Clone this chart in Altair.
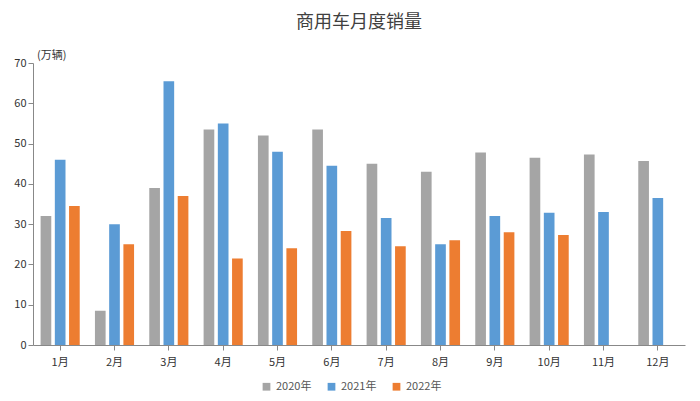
import altair as alt
import pandas as pd

months = [f"{i}月" for i in range(1, 13)]
series = ["2020年", "2021年", "2022年"]
v2020 = [32, 8.5, 39, 53.5, 52, 53.5, 45, 43, 47.8, 46.5, 47.3, 45.7]
v2021 = [46, 30, 65.5, 55, 48, 44.5, 31.5, 25, 32, 32.8, 33, 36.5]
v2022 = [34.5, 25, 37, 21.5, 24, 28.3, 24.5, 26, 28, 27.3, None, None]

rows = []
for s, vals in zip(series, [v2020, v2021, v2022]):
    for m, v in zip(months, vals):
        if v is not None:
            rows.append({"月": m, "年": s, "销量": v})
df = pd.DataFrame(rows)

font = "Noto Sans CJK SC"
bars = alt.Chart(df).mark_bar().encode(
    x=alt.X("月:N", sort=months, title=None,
            axis=alt.Axis(labelAngle=0, domainColor="#888", ticks=True, tickColor="#888",
                          labelFont=font, labelFontSize=11, labelColor="#333", labelPadding=6),
            scale=alt.Scale(paddingInner=0.28, paddingOuter=0.14)),
    xOffset=alt.XOffset("年:N", sort=series, scale=alt.Scale(paddingInner=0.25)),
    y=alt.Y("销量:Q", title=None, scale=alt.Scale(domain=[0, 70]),
            axis=alt.Axis(values=list(range(0, 71, 10)), grid=False, domainColor="#888",
                          ticks=True, tickColor="#888", labelFont=font, labelFontSize=11,
                          labelColor="#333")),
    color=alt.Color("年:N", sort=series,
                    scale=alt.Scale(domain=series, range=["#a5a5a5", "#5b9bd5", "#ed7d31"]),
                    legend=alt.Legend(orient="none", legendX=228, legendY=318, direction="horizontal",
                                      title=None, symbolType="square",
                                      labelFont=font, labelFontSize=11, labelColor="#555",
                                      symbolSize=60, columnPadding=14)),
)

unit = alt.Chart(pd.DataFrame({"t": ["(万辆)"]})).mark_text(
    font=font, fontSize=11, color="#333", align="left", baseline="bottom", dx=4, dy=-2
).encode(text="t:N", x=alt.value(0), y=alt.value(0))

chart = alt.layer(bars, unit).properties(
    width=652, height=282,
    padding={"left": 5, "top": 6, "right": 5, "bottom": 5},
    title=alt.TitleParams("商用车月度销量", font=font, fontSize=18, fontWeight="normal",
                          color="#404040", offset=18),
).configure_view(stroke=None)

chart.save("out.html", embed_options={"renderer": "svg", "actions": False})
